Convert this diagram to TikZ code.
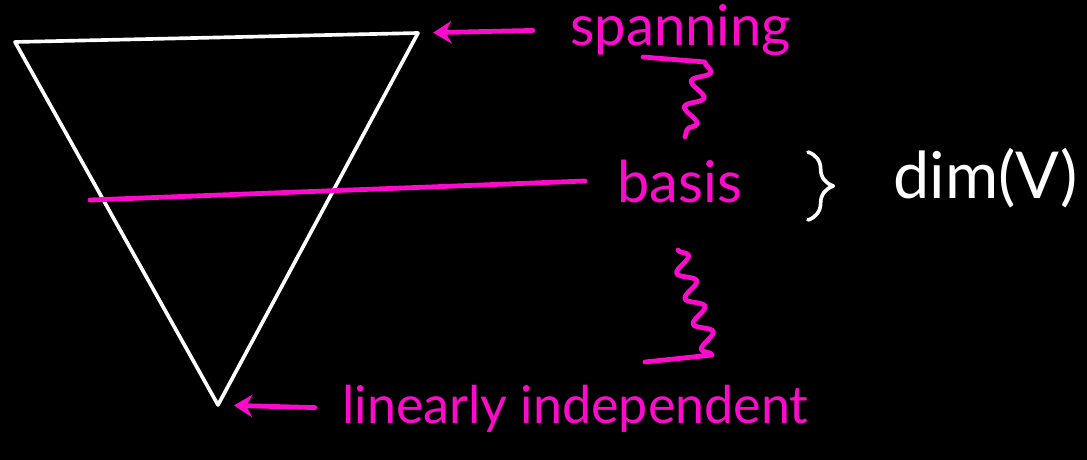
\documentclass[tikz,border=0pt]{standalone}
\usepackage{fontspec}
\setmainfont{Lato}
\usetikzlibrary{arrows.meta,decorations.pathmorphing,decorations.pathreplacing}
\definecolor{ink}{RGB}{255,10,205}
\tikzset{
  chalk/.style={white, line width=2.6pt, line cap=round, line join=round},
  pen/.style={ink, line width=3.4pt, line cap=round, line join=round},
  word/.style={inner sep=0pt, anchor=base west},
  tip/.style={-{Stealth[length=13pt,width=16pt]}},
}

\begin{document}
\begin{tikzpicture}[x=0.025cm, y=-0.025cm]
  \fill[black] (0,0) rectangle (1087,460);
  \useasboundingbox (0,0) rectangle (1087,460);

  % the triangle
  \coordinate (tl) at (15,42);
  \coordinate (tr) at (418,33);
  \coordinate (bt) at (218,405);
  \coordinate (mid) at (90,200);
  \draw[chalk] (tl) -- (tr) -- (bt) -- cycle;

  % labels
  \node[word, ink, font=\fontsize{40}{44}\selectfont] (sp) at (570,45) {spanning};
  \node[word, ink, font=\fontsize{41}{45}\selectfont] (ba) at (617,202) {basis};
  \node[word, white, font=\fontsize{46}{50}\selectfont] (dm) at (893,198) {dim(V)};
  \node[word, ink, font=\fontsize{37}{41}\selectfont] (li) at (342,423) {linearly independent};

  \draw[pen] (mid) -- ([xshift=-0.8cm]ba.west);
  \draw[pen, tip, shorten <=0.93cm, shorten >=0.38cm] (sp.west) -- (tr);
  \draw[pen, tip, shorten <=0.68cm, shorten >=0.4cm] (li.west) -- (bt);

  % squiggles
  \coordinate (s1a) at (643,57);
  \coordinate (s1b) at (705,62);
  \coordinate (s1c) at (685,137);
  \draw[pen] (s1a) -- (s1b)
    decorate[decoration={snake, segment length=19pt, amplitude=6pt}] {-- (s1c)};
  \coordinate (s2a) at (678,250);
  \coordinate (s2b) at (712,355);
  \coordinate (s2c) at (645,362);
  \draw[pen] (s2a)
    decorate[decoration={snake, segment length=19pt, amplitude=6pt}] {-- (s2b)} -- (s2c);

  % brace
  \coordinate (br1) at (808,152);
  \coordinate (br2) at (808,220);
  \draw[chalk, decorate, decoration={brace, amplitude=18pt}] (br1) -- (br2);
\end{tikzpicture}
\end{document}
